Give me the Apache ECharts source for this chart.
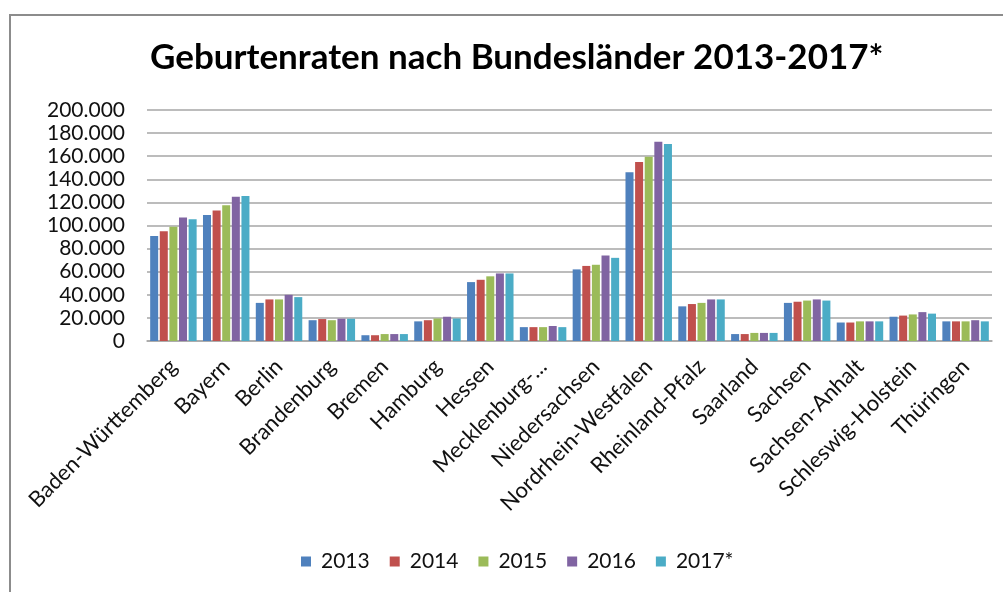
<!DOCTYPE html>
<html>
<head>
<meta charset="utf-8">
<script src="https://cdn.jsdelivr.net/npm/echarts@6/dist/echarts.min.js"></script>
<style>
  html, body { margin: 0; padding: 0; background: #fff; }
  #chart { width: 1003px; height: 592px; }
</style>
</head>
<body>
<div id="chart"></div>
<script>
// Bundesländer (Mecklenburg-Vorpommern is cut off in the original)
const laender = [
  "Baden-Württemberg", "Bayern", "Berlin", "Brandenburg", "Bremen", "Hamburg",
  "Hessen", "Mecklenburg-...", "Niedersachsen", "Nordrhein-Westfalen",
  "Rheinland-Pfalz", "Saarland", "Sachsen", "Sachsen-Anhalt",
  "Schleswig-Holstein", "Thüringen"
];
const jahre = ["2013", "2014", "2015", "2016", "2017*"];

// Geburten je Jahr
const g2013 = [91000, 109000, 33000, 18000, 5000, 17000, 51000, 12000, 62000, 146000, 30000, 6000, 33000, 16000, 21000, 17000];
const g2014 = [95000, 113000, 36000, 19000, 5000, 18000, 53000, 12000, 65000, 155000, 32000, 6000, 34000, 16000, 22000, 17000];
const g2015 = [99000, 117500, 36000, 18000, 6000, 19500, 56000, 12000, 66000, 159500, 33000, 7000, 35000, 17000, 23000, 17000];
const g2016 = [107000, 125000, 40000, 19300, 6000, 21000, 58500, 13000, 74000, 172500, 36000, 7000, 36000, 17000, 25000, 18000];
const g2017 = [105500, 125500, 38000, 19300, 6000, 19500, 58500, 12000, 72000, 170500, 36000, 7000, 35000, 17000, 23700, 17000];
const werte = [g2013, g2014, g2015, g2016, g2017];

const yTicks = { min: 0, max: 200000, interval: 20000 };
const farben = ["#4f81bd", "#c0504d", "#9bbb59", "#8064a2", "#4bacc6"];

const schrift = "Lato, 'Liberation Sans', sans-serif";

const chart = echarts.init(document.getElementById("chart"));

// tausender mit punkt, wie im original
const fmt = (v) => v === 0 ? "0" : String(v).replace(/\B(?=(\d{3})+(?!\d))/g, ".");

chart.setOption({
  animation: false,
  color: farben,
  textStyle: { fontFamily: schrift },
  title: {
    text: "Geburtenraten nach Bundesländer 2013-2017*",
    left: 145,
    top: 35,
    textStyle: { fontSize: 35, fontWeight: "bold", color: "#000", fontFamily: schrift }
  },
  graphic: [{
    type: "rect",
    shape: { x: 10, y: 15, width: 1100, height: 700 },
    style: { fill: "none", stroke: "#8c8c8c", lineWidth: 2 },
    silent: true
  }],
  legend: {
    bottom: 15,
    left: 296,
    itemWidth: 10,
    itemHeight: 10,
    itemGap: 20,
    icon: "rect",
    textStyle: { fontSize: 21, color: "#111", fontFamily: schrift, padding: [0, 0, 0, 5] }
  },
  grid: { left: 147, right: 11, top: 110, bottom: 251 },
  xAxis: {
    type: "category",
    data: laender,
    axisTick: { show: false },
    axisLine: { lineStyle: { color: "#a6a6a6", width: 1.5 } },
    axisLabel: {
      rotate: 45,
      interval: 0,
      fontSize: 22,
      color: "#111",
      margin: 22,
      fontFamily: schrift
    }
  },
  yAxis: {
    type: "value",
    min: yTicks.min,
    max: yTicks.max,
    interval: yTicks.interval,
    axisLine: { show: false },
    axisTick: { show: false },
    splitLine: { lineStyle: { color: "#a6a6a6", width: 1.5 } },
    axisLabel: {
      fontSize: 21,
      color: "#111",
      margin: 22,
      formatter: fmt,
      fontFamily: schrift
    }
  },
  series: jahre.map((j, i) => ({
    name: j,
    type: "bar",
    data: werte[i],
    barGap: "20%",
    barCategoryGap: "12%",
    itemStyle: { color: farben[i] }
  }))
});
</script>
</body>
</html>
